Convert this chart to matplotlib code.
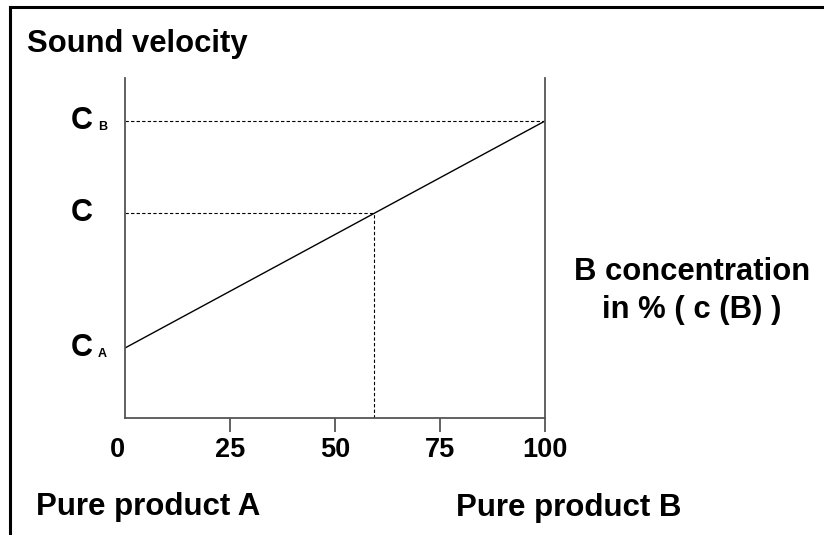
import matplotlib
matplotlib.use("Agg")
import matplotlib.pyplot as plt
from matplotlib.lines import Line2D
from matplotlib.transforms import blended_transform_factory, ScaledTranslation

plt.rcParams['font.family'] = ['Liberation Sans', 'DejaVu Sans']
plt.rcParams['font.weight'] = 'bold'

# data (B concentration in %, sound velocity in arbitrary units)
conc = [0, 100]
velocity = [70, 297]
c_conc = 59.3
c_vel = 205
level_names = ['C', 'C', 'C']
level_subs = ['A', '', 'B']
level_vals = [70, 205, 297]
x_ticks = [0, 25, 50, 75, 100]
x_labels = ['0', '25', '50', '75', '100']

W, H = 824, 535
fig = plt.figure(figsize=(W / 100, H / 100), dpi=100)
ax = fig.add_axes([125 / W, 1 - 418 / H, 420 / W, 340 / H])

ax.plot(conc, velocity, color='black', lw=1)
ax.plot([0, c_conc], [c_vel, c_vel], color='black', lw=0.8, ls=(0, (3, 2)))
ax.plot([c_conc, c_conc], [0, c_vel], color='black', lw=0.8, ls=(0, (3, 2)))
ax.plot([0, 100], [velocity[1], velocity[1]], color='black', lw=0.8, ls=(0, (3, 2)))

ax.set_xlim(0, 100)
ax.set_ylim(0, 340)

for s in ['left', 'bottom', 'right']:
    ax.spines[s].set_color('#555555')
    ax.spines[s].set_linewidth(1.3)
ax.spines['top'].set_visible(False)

ax.set_xticks(x_ticks)
ax.set_xticklabels(x_labels, fontsize=19.5, fontweight='bold')
ax.tick_params(axis='x', length=10, width=1.3, color='#555555', pad=4)
ax.xaxis.get_major_ticks()[0].tick1line.set_visible(False)
lbl0 = ax.get_xticklabels()[0]
lbl0.set_transform(lbl0.get_transform() + ScaledTranslation(-8 / 100, 0, fig.dpi_scale_trans))

ax.set_yticks([])
trans = blended_transform_factory(ax.transAxes, ax.transData)
for name, sub, val in zip(level_names, level_subs, level_vals):
    ax.text(-0.13, val, name, transform=trans, ha='left', va='center',
            fontsize=22, fontweight='bold')
    if sub:
        ax.text(-0.064, val - 6, sub, transform=trans, ha='left', va='center',
                fontsize=9, fontweight='bold')

fig.text(27 / W, 1 - 52 / H, 'Sound velocity', fontsize=22.3, fontweight='bold', va='baseline')
fig.text(692 / W, 1 - 280 / H, 'B concentration', fontsize=22.3, fontweight='bold',
         ha='center', va='baseline')
fig.text(692 / W, 1 - 318 / H, 'in % ( c (B) )', fontsize=22.3, fontweight='bold',
         ha='center', va='baseline')
fig.text(36 / W, 1 - 515 / H, 'Pure product A', fontsize=22.5, fontweight='bold', va='baseline')
fig.text(456 / W, 1 - 516 / H, 'Pure product B', fontsize=22.5, fontweight='bold', va='baseline')

# frame around the figure (top and left only)
fig.add_artist(Line2D([10 / W, 1], [1 - 7 / H, 1 - 7 / H], color='black', lw=2.2,
                      transform=fig.transFigure))
fig.add_artist(Line2D([10 / W, 10 / W], [0, 1 - 7 / H], color='black', lw=2.2,
                      transform=fig.transFigure))

fig.savefig('out.png', dpi=100)
